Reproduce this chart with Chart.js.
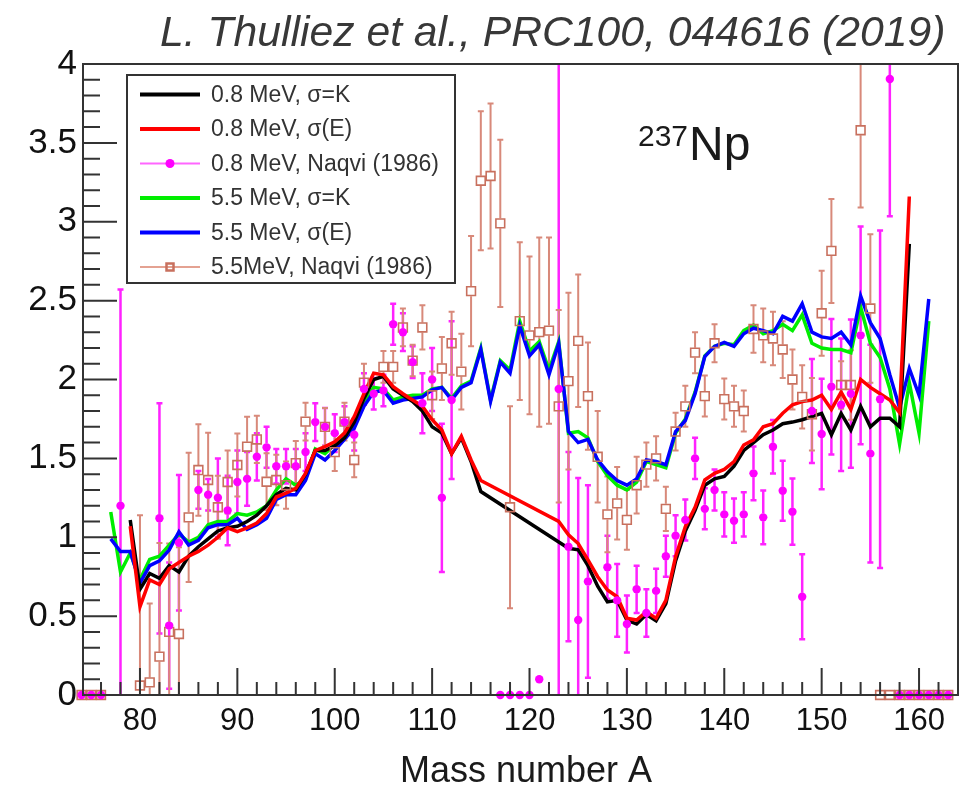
<!DOCTYPE html>
<html><head><meta charset="utf-8">
<script src="https://cdn.jsdelivr.net/npm/chart.js@4.4.1/dist/chart.umd.min.js"></script>
<style>html,body{margin:0;padding:0;background:#fff;}#wrap{width:980px;height:788px;}</style>
</head><body><div id="wrap"><canvas id="c" width="980" height="788"></canvas></div>
<script>
// ---------------- DATA ----------------
const chartTitle = "L. Thulliez et al., PRC100, 044616 (2019)";
const nucleusMass = "237";
const nucleusName = "Np";
const xAxisTitle = "Mass number A";
const xTickValues = [80, 90, 100, 110, 120, 130, 140, 150, 160];
const yTickValues = [0, 0.5, 1, 1.5, 2, 2.5, 3, 3.5, 4];
const yTickLabels = ["0", "0.5", "1", "1.5", "2", "2.5", "3", "3.5", "4"];
const legendLabels = ["0.8 MeV, σ=K", "0.8 MeV, σ(E)", "0.8 MeV, Naqvi (1986)",
                      "5.5 MeV, σ=K", "5.5 MeV, σ(E)", "5.5MeV, Naqvi (1986)"];

// 0.8 MeV calculations
const curveA08 = [79,80,81,82,83,84,85,86,87,88,89,
  90,91,92,93,94,95,96,97,98,99,
  100,101,102,103,104,105,106,107,108,109,
  110,111,112,113,114,115,
  123,124,125,126,127,128,129,
  130,131,132,133,134,135,136,137,138,139,
  140,141,142,143,144,145,146,147,148,149,
  150,151,152,153,154,155,156,157,158,159];
const black08 = [1.11,0.67,0.77,0.74,0.82,0.78,0.88,0.94,0.99,1.04,1.06,
  1.07,1.10,1.14,1.20,1.27,1.31,1.30,1.40,1.55,1.55,
  1.58,1.63,1.73,1.88,2.00,2.02,1.94,1.90,1.86,1.80,
  1.70,1.66,1.53,1.63,1.48,1.29,
  0.97,0.93,0.92,0.82,0.69,0.59,0.60,
  0.475,0.45,0.51,0.47,0.58,0.85,1.04,1.17,1.33,1.37,
  1.385,1.45,1.55,1.60,1.65,1.68,1.72,1.73,1.745,1.765,
  1.785,1.65,1.785,1.68,1.83,1.70,1.755,1.755,1.70,2.86];
const red08 = [1.07,0.56,0.73,0.70,0.80,0.84,0.88,0.91,0.95,1.00,1.06,
  1.035,1.06,1.09,1.15,1.255,1.28,1.31,1.405,1.55,1.575,
  1.605,1.66,1.765,1.91,2.04,2.03,1.955,1.91,1.87,1.83,
  1.745,1.68,1.53,1.64,1.49,1.36,
  1.10,1.015,0.96,0.856,0.75,0.666,0.623,
  0.486,0.475,0.528,0.486,0.60,0.877,1.067,1.19,1.363,1.405,
  1.43,1.48,1.585,1.617,1.70,1.72,1.786,1.84,1.86,1.87,
  1.90,1.81,1.92,1.81,2.00,1.95,1.91,1.87,1.79,3.16];

// 5.5 MeV calculations
const curveA55 = [77,78,79,80,81,82,83,84,85,86,87,88,89,
  90,91,92,93,94,95,96,97,98,99,
  100,101,102,103,104,105,106,107,108,109,
  110,111,112,113,114,115,116,117,118,119,
  120,121,122,123,124,125,126,127,128,129,
  130,131,132,133,134,135,136,137,138,139,
  140,141,142,143,144,145,146,147,148,149,
  150,151,152,153,154,155,156,157,158,159,
  160,161];
const green55 = [1.16,0.78,0.90,0.73,0.86,0.88,0.95,1.02,0.97,1.00,1.08,1.10,1.10,
  1.15,1.14,1.16,1.20,1.30,1.37,1.33,1.37,1.56,1.53,
  1.59,1.66,1.72,1.85,1.95,1.94,1.87,1.89,1.90,1.90,
  1.94,1.95,1.88,1.96,1.99,2.20,1.87,2.12,2.06,2.37,
  2.18,2.24,2.06,2.24,1.66,1.67,1.63,1.48,1.39,1.33,
  1.30,1.35,1.48,1.46,1.44,1.66,1.75,1.92,2.15,2.21,
  2.23,2.22,2.31,2.345,2.29,2.31,2.35,2.31,2.41,2.23,
  2.20,2.19,2.19,2.17,2.46,2.23,2.14,1.94,1.59,1.98,
  1.66,2.37];
const blue55 = [0.99,0.91,0.91,0.71,0.82,0.85,0.92,1.035,0.95,0.98,1.06,1.08,1.08,
  1.12,1.05,1.08,1.12,1.24,1.27,1.27,1.36,1.53,1.49,
  1.55,1.62,1.69,1.83,1.92,1.93,1.85,1.87,1.88,1.89,
  1.935,1.95,1.87,1.95,1.98,2.19,1.86,2.11,2.04,2.34,
  2.15,2.22,2.03,2.23,1.67,1.60,1.62,1.49,1.415,1.36,
  1.33,1.37,1.49,1.48,1.46,1.67,1.74,1.91,2.145,2.21,
  2.235,2.21,2.29,2.325,2.31,2.29,2.40,2.37,2.48,2.30,
  2.27,2.26,2.30,2.22,2.53,2.36,2.26,2.03,1.82,2.07,
  1.90,2.51];

// Naqvi (1986), 0.8 MeV
const naqvi08A = [74,75,76,78,82,83,84,
  86,87,88,89,90,91,92,93,94,95,96,97,98,99,
  100,101,102,103,104,105,106,107,108,109,110,111,112,
  117,118,119,120,121,123,124,125,126,
  128,129,130,131,132,133,134,135,136,137,138,139,
  140,141,142,143,144,145,146,147,148,149,
  150,151,152,153,154,155,156,157,
  158,159,160,161,162,163];
const naqvi08V = [0,0,0,1.20,1.12,0.44,0.965,
  1.30,1.27,1.25,1.17,1.35,1.37,1.51,1.57,1.45,1.45,1.45,1.54,1.73,1.70,
  1.66,1.73,1.65,1.94,1.91,1.93,2.35,2.30,2.11,1.85,2.00,1.25,1.87,
  0,0,0,0,0.10,1.94,0.94,0.475,0.72,
  0.81,0.60,0.45,0.67,0.52,0.66,0.88,1.01,1.11,1.50,1.18,1.30,
  1.145,1.105,1.145,1.405,1.126,1.574,1.295,1.162,0.623,1.80,
  1.655,1.954,1.84,1.91,2.28,1.53,1.875,3.905,
  0,0,0,0,0,0];
const naqvi08E = [0,0,0,1.37,0.73,0.40,0.43,
  0.12,0.10,0.25,0.22,0.20,0.17,0.15,0.13,0.11,0.11,0.11,0.12,0.12,0.12,
  0.12,0.10,0.10,0.10,0.10,0.10,0.13,0.12,0.10,0.19,0.20,0.47,0.50,
  0,0,0,0,0,2.2,0.60,0.90,0.61,
  0.20,0.23,0.18,0.15,0.15,0.14,0.13,0.13,0.13,0.13,0.13,0.13,
  0.14,0.14,0.14,0.17,0.17,0.17,0.19,0.21,0.27,0.33,
  0.35,0.43,0.42,0.47,0.69,0.69,1.07,0.87,
  0,0,0,0,0,0];

// Naqvi (1986), 5.5 MeV
const naqvi55A = [74,75,76,
  80,81,82,83,84,85,86,87,88,89,
  90,91,92,93,94,95,96,97,
  99,100,101,102,103,
  105,106,107,108,109,
  110,111,112,113,114,115,116,117,118,119,
  120,121,122,123,124,125,126,127,128,129,
  130,131,132,133,134,135,136,137,138,139,
  140,141,142,143,144,145,146,147,148,149,
  150,151,152,153,154,155,
  156,157,158,159,160,161,162,163];
const naqvi55V = [0,0,0,
  0.06,0.08,0.243,0.40,0.387,1.126,1.426,1.363,1.19,1.35,
  1.458,1.574,1.62,1.352,1.363,1.33,1.47,1.733,
  1.70,1.54,1.733,1.49,1.98,
  2.08,2.08,2.33,2.12,2.33,
  1.90,2.07,2.23,2.05,2.56,3.26,3.29,2.99,1.19,2.37,
  2.28,2.30,2.31,1.83,1.99,2.245,1.895,1.51,1.145,1.215,
  1.11,1.33,1.46,1.50,1.18,1.67,1.83,2.17,1.895,2.23,
  1.876,1.83,1.80,2.32,2.28,2.26,2.19,2.00,1.89,1.78,
  2.42,2.815,1.965,1.965,3.58,2.45,
  0,0,0,0,0,0,0,0];
const naqvi55E = [0,0,0,
  1.08,0.50,0.72,0.56,0.55,0.41,0.29,0.30,0.20,0.20,
  0.20,0.19,0.15,0.18,0.16,0.15,0.14,0.12,
  0.12,0.12,0.12,0.11,0.12,
  0.10,0.10,0.12,0.10,0.14,
  0.15,0.20,0.20,0.24,0.35,0.44,0.46,0.53,0.64,0.50,
  0.50,0.60,0.59,0.61,0.56,0.42,0.34,0.29,0.24,0.23,
  0.19,0.18,0.14,0.14,0.14,0.12,0.13,0.13,0.13,0.12,
  0.13,0.13,0.13,0.15,0.17,0.17,0.18,0.19,0.20,0.23,
  0.27,0.33,0.15,0.22,0.49,0.47,
  0,0,0,0,0,0,0,0];

// ---------------- CHART ----------------
const FONT = "'Liberation Sans', Arial, Helvetica, sans-serif";
const pts = (xs, ys) => xs.map((a, i) => ({x: a, y: ys[i]}));

const errorBarPlugin = {
  id: 'errbars',
  beforeDatasetsDraw(chart) {
    const {ctx, chartArea: ca, scales: {x, y}} = chart;
    ctx.save();
    ctx.beginPath(); ctx.rect(ca.left, ca.top, ca.right - ca.left, ca.bottom - ca.top); ctx.clip();
    chart.data.datasets.forEach(ds => {
      if (!ds.errors) return;
      ctx.strokeStyle = ds.errColor; ctx.lineWidth = ds.errWidth;
      ds.data.forEach((p, j) => {
        const e = ds.errors[j]; if (!e) return;
        const px = x.getPixelForValue(p.x), py = y.getPixelForValue(p.y);
        const yLo = y.getPixelForValue(p.y - e), yHi = y.getPixelForValue(p.y + e);
        const g = ds.errGap;
        ctx.beginPath();
        if (yHi < py - g) { ctx.moveTo(px, py - g); ctx.lineTo(px, yHi); }
        if (yLo > py + g) { ctx.moveTo(px, py + g); ctx.lineTo(px, yLo); }
        ctx.moveTo(px - 3, yHi); ctx.lineTo(px + 3, yHi);
        ctx.moveTo(px - 3, yLo); ctx.lineTo(px + 3, yLo);
        ctx.stroke();
      });
    });
    ctx.restore();
  }
};

const frameLegendPlugin = {
  id: 'frameLegend',
  afterDatasetsDraw(chart) {
    const {ctx, chartArea: ca, scales: {x, y}} = chart;
    ctx.save();
    // frame
    ctx.strokeStyle = '#333'; ctx.lineWidth = 2;
    ctx.strokeRect(ca.left, ca.top, ca.right - ca.left, ca.bottom - ca.top);
    // inward ticks
    ctx.beginPath();
    for (let k = Math.ceil(x.min / 2); k * 2 <= x.max; k++) {
      const v = k * 2, px = x.getPixelForValue(v);
      const len = (v % 10 === 0) ? 27 : 13;
      ctx.moveTo(px, ca.bottom); ctx.lineTo(px, ca.bottom - len);
    }
    for (let k = 0; k <= 40; k++) {
      const py = y.getPixelForValue(k / 10);
      const len = (k % 5 === 0) ? 34 : 17;
      ctx.moveTo(ca.left, py); ctx.lineTo(ca.left + len, py);
    }
    ctx.stroke();

    // legend box
    const L = 127, T = 75, R = 455, B = 283;
    ctx.fillStyle = '#fff'; ctx.fillRect(L, T, R - L, B - T);
    ctx.strokeStyle = '#333'; ctx.lineWidth = 2; ctx.strokeRect(L, T, R - L, B - T);
    ctx.font = '23px ' + FONT; ctx.textBaseline = 'middle'; ctx.fillStyle = '#333';
    chart.data.datasets.forEach((ds, i) => {
      const cy = 94.5 + i * 34.5;
      ctx.strokeStyle = ds.legendLine; ctx.lineWidth = ds.legendWidth;
      ctx.beginPath(); ctx.moveTo(140, cy); ctx.lineTo(200, cy); ctx.stroke();
      if (ds.legendMarker === 'circle') {
        ctx.fillStyle = ds.pointBackgroundColor;
        ctx.beginPath(); ctx.arc(170, cy, 4.5, 0, Math.PI * 2); ctx.fill();
      } else if (ds.legendMarker === 'rect') {
        ctx.strokeStyle = ds.pointBorderColor; ctx.lineWidth = 2.5;
        ctx.strokeRect(166.5, cy - 3.5, 7, 7);
      }
      ctx.fillStyle = '#333';
      ctx.fillText(ds.label, 211, cy + 1);
    });

    // texts
    ctx.fillStyle = '#383838'; ctx.textBaseline = 'alphabetic';
    ctx.font = 'italic 42.7px ' + FONT; ctx.textAlign = 'left';
    ctx.fillText(chartTitle, 160, 46);
    ctx.fillStyle = '#1a1a1a';
    ctx.font = '30px ' + FONT; ctx.fillText(nucleusMass, 638, 146);
    ctx.font = '48px ' + FONT; ctx.fillText(nucleusName, 689, 160);
    ctx.font = '36px ' + FONT; ctx.textAlign = 'center';
    ctx.fillText(xAxisTitle, 526, 782);
    ctx.restore();
  }
};

const lineDs = (label, xs, ys, color, order) => ({
  label, data: pts(xs, ys), showLine: true, borderColor: color, backgroundColor: color,
  borderWidth: 3.5, pointRadius: 0, order, legendLine: color, legendWidth: 4
});

new Chart(document.getElementById('c'), {
  type: 'scatter',
  data: { datasets: [
    lineDs(legendLabels[0], curveA08, black08, '#000000', 4),
    lineDs(legendLabels[1], curveA08, red08, '#ff0000', 3),
    { label: legendLabels[2], data: pts(naqvi08A, naqvi08V), errors: naqvi08E,
      errColor: '#ff22ff', errWidth: 2.5, errGap: 4,
      pointStyle: 'circle', pointRadius: 4.2, pointBackgroundColor: '#ff00ff',
      pointBorderColor: '#ff00ff', pointBorderWidth: 0, showLine: false, order: 1, clip: 8,
      legendLine: '#ff66ff', legendWidth: 2, legendMarker: 'circle' },
    lineDs(legendLabels[3], curveA55, green55, '#00ee00', 6),
    lineDs(legendLabels[4], curveA55, blue55, '#0000ff', 5),
    { label: legendLabels[5], data: pts(naqvi55A, naqvi55V), errors: naqvi55E,
      errColor: '#d8897a', errWidth: 2, errGap: 5,
      pointStyle: 'rect', pointRadius: 6.2, pointBackgroundColor: 'rgba(0,0,0,0)',
      pointBorderColor: '#c8705e', pointBorderWidth: 1.6, showLine: false, order: 2, clip: 8,
      legendLine: '#e4a292', legendWidth: 2, legendMarker: 'rect' }
  ]},
  options: {
    responsive: false, animation: false, devicePixelRatio: 1,
    layout: { padding: { top: 64, right: 22, left: 0, bottom: 0 } },
    plugins: { legend: { display: false }, title: { display: false }, tooltip: { enabled: false } },
    scales: {
      x: { type: 'linear', min: 74.15, max: 164,
        grid: { display: false, drawTicks: false }, border: { display: false },
        ticks: { color: '#111', font: { family: FONT, size: 31 }, padding: 8, maxRotation: 0, autoSkip: false, includeBounds: false },
        afterBuildTicks: s => { s.ticks = xTickValues.map(v => ({ value: v })); },
        afterFit: s => { s.height = 93; } },
      y: { type: 'linear', min: 0, max: 4,
        grid: { display: false, drawTicks: false }, border: { display: false },
        ticks: { color: '#111', font: { family: FONT, size: 35 }, padding: 6, autoSkip: false, includeBounds: false,
          callback: (v, i) => yTickLabels[i] },
        afterBuildTicks: s => { s.ticks = yTickValues.map(v => ({ value: v })); },
        afterFit: s => { s.width = 83; } }
    }
  },
  plugins: [errorBarPlugin, frameLegendPlugin]
});
</script></body></html>
